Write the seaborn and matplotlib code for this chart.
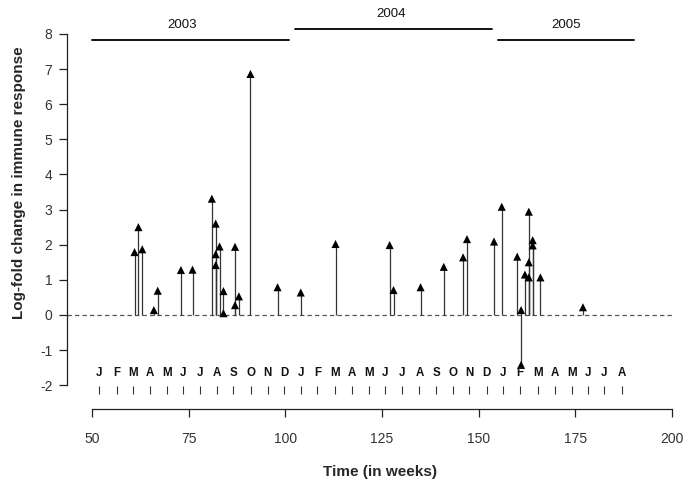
import pandas as pd
import seaborn as sns
import matplotlib.pyplot as plt

# =============================================================================
# DATA
# =============================================================================
weeks = [61, 62, 63, 66, 67, 73, 76, 81, 82, 82, 82, 83, 84, 84, 87, 87, 88,
         91, 98, 104, 113, 127, 128, 135, 141, 146, 147, 154, 156, 160, 161,
         161, 162, 163, 163, 163, 164, 164, 166, 177]
response = [1.79, 2.50, 1.87, 0.14, 0.69, 1.28, 1.29, 3.31, 2.60, 1.73, 1.42,
            1.95, 0.68, 0.05, 1.94, 0.28, 0.53, 6.86, 0.79, 0.64, 2.02, 1.99,
            0.71, 0.79, 1.37, 1.64, 2.16, 2.09, 3.08, 1.66, 0.14, -1.42, 1.15,
            2.94, 1.50, 1.07, 2.13, 1.98, 1.07, 0.22]

month_labels = list("JFMAMJJASOND") * 2 + list("JFMAMJJA")
month_weeks = [51.9, 56.4, 60.5, 65.0, 69.5, 73.6, 77.9, 82.3, 86.6, 91.1,
               95.4, 99.7, 104.0, 108.3, 112.9, 117.2, 121.7, 125.8, 130.1,
               134.7, 139.0, 143.3, 147.6, 152.1, 156.4, 160.7, 165.5, 169.8,
               174.1, 178.3, 182.5, 187.0]

year_labels = ["2003", "2004", "2005"]
year_start = [50.0, 102.5, 155.1]
year_end = [101.0, 153.5, 190.2]
year_line_y = [7.83, 8.14, 7.83]
year_text_x = [73.2, 127.4, 172.6]
year_text_y = [8.26, 8.57, 8.26]

x_ticks = [50, 75, 100, 125, 150, 175, 200]
y_ticks = list(range(-2, 9))

df = pd.DataFrame({"Week": weeks, "Response": response})

# =============================================================================
# PLOT
# =============================================================================
sns.set_style("ticks")
plt.rcParams["font.family"] = ["Liberation Sans", "DejaVu Sans"]
plt.rcParams["axes.unicode_minus"] = False

fig = plt.figure(figsize=(6.85, 4.83), dpi=100)
ax = fig.add_axes([67 / 685, (483 - 409) / 483, 606 / 685, 399 / 483])

# baseline
ax.axhline(0, color="#555555", linestyle=(0, (3.5, 2.5)), linewidth=0.9,
           zorder=1)

# stems + triangles
ax.vlines(df["Week"], 0, df["Response"], color="#333333", linewidth=0.9,
          zorder=2)
sns.scatterplot(data=df, x="Week", y="Response", marker="^", color="black",
                s=34, edgecolor="none", ax=ax, zorder=3)

# month letters and small ticks
for lab, w in zip(month_labels, month_weeks):
    ax.text(w, -1.64, lab, ha="center", va="center", fontsize=8.3,
            fontweight="bold", color="#111111")
ax.vlines(month_weeks, -2.25, -2.02, color="#333333", linewidth=0.8)

# year bars
for lab, s, e, ly, tx, ty in zip(year_labels, year_start, year_end,
                                 year_line_y, year_text_x, year_text_y):
    ax.plot([s, e], [ly, ly], color="black", linewidth=1.3, clip_on=False)
    ax.text(tx, ty, lab, ha="center", va="center", fontsize=9.5,
            color="#111111")

ax.set_xlim(43.53, 200.3)
ax.set_ylim(-2.676, 8.68)
ax.set_xticks(x_ticks)
ax.set_yticks(y_ticks)
ax.spines["top"].set_visible(False)
ax.spines["right"].set_visible(False)
ax.spines["left"].set_bounds(-2, 8)
ax.spines["bottom"].set_bounds(50, 200)
for sp in ("left", "bottom"):
    ax.spines[sp].set_color("#222222")
    ax.spines[sp].set_linewidth(0.9)
ax.tick_params(axis="both", length=5.5, width=0.9, colors="#222222",
               labelsize=10, pad=5, labelcolor="#333333")
ax.tick_params(axis="x", pad=11)

ax.set_xlabel("Time (in weeks)", fontsize=11, fontweight="bold")
ax.set_ylabel("Log-fold change in immune response", fontsize=11,
              fontweight="bold")
ax.xaxis.set_label_coords((380 - 67) / 606, (409 - 465) / 399)
ax.yaxis.set_label_coords((26 - 67) / 606, (409 - 183) / 399)

plt.savefig("out.png", dpi=100)
plt.close()
